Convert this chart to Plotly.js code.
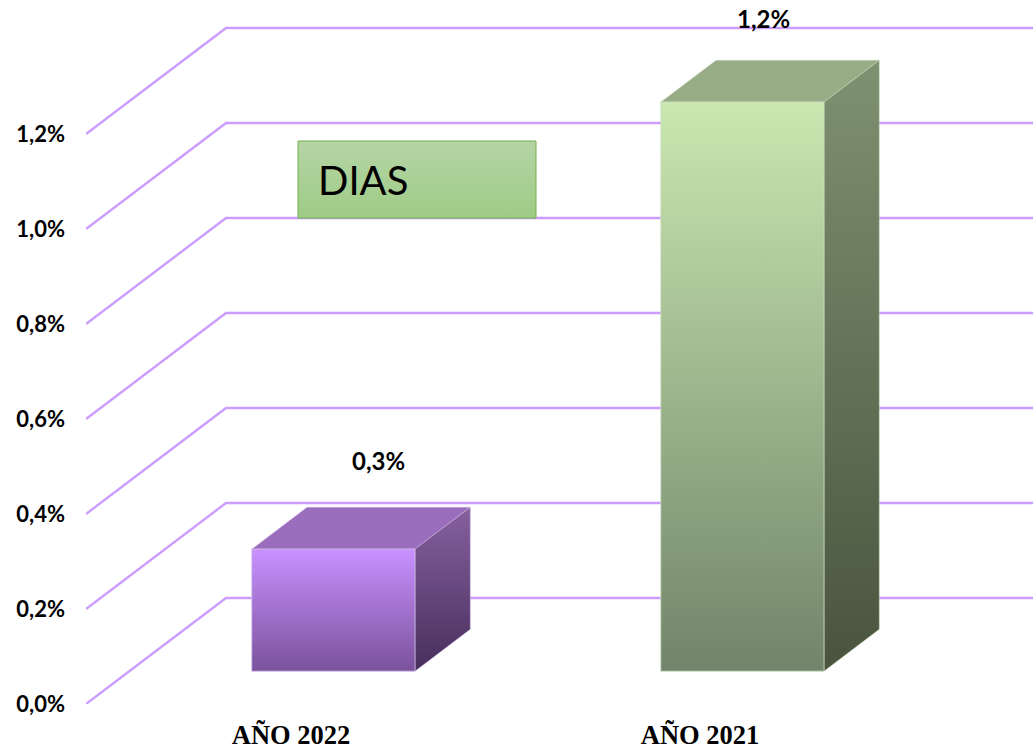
<!DOCTYPE html>
<html>
<head>
<meta charset="utf-8">
<script src="https://cdn.plot.ly/plotly-3.0.1.min.js"></script>
<style>html,body{margin:0;padding:0;background:#fff}#c{width:1033px;height:750px}</style>
</head>
<body>
<div id="c"></div>
<script>
// ---- data ----
const categories = ['AÑO 2022', 'AÑO 2021'];
const values = [0.257, 1.198];           // percent
const yTicks = [0, 0.2, 0.4, 0.6, 0.8, 1.0, 1.2];
const boxLabel = 'DIAS';
const pct = v => v.toFixed(1).replace('.', ',') + '%';

// ---- styles ----
const GRID = '#cc9cff';
const frontColors = [['#c991ff', '#7a529c'], ['#c9e8b0', '#72846a']];
const topColors = ['#9a6dbd', '#98ac85'];
const sideColors = [['#86609f', '#472f5c'], ['#7e9170', '#49543f']];
const edgeColors = ['#d3bce8', '#cfdcc4'];

// ---- oblique projection geometry (pixel scales of the plot area) ----
const W = 1033, H = 750, ML = 86, MB = 46;
const pxPerCat = 409, pxPerVal = 475, cat0Px = 290;
const xRange = [(ML - cat0Px) / pxPerCat, (W - cat0Px) / pxPerCat];
const yRange = [0, (H - MB) / pxPerVal];
const depthX = 140 / pxPerCat, depthY = 106 / pxPerVal;
const halfBar = 81.6 / pxPerCat, dFront = 0.31, dBack = 0.705;
const P = (c, v, d) => [c + d * depthX, v + d * depthY];
const px2x = p => (p - cat0Px) / pxPerCat;
const px2y = p => (H - MB - p) / pxPerVal;

const traces = [];
function poly(points, fill, lineColor, lineWidth) {
  const t = {
    x: points.map(p => p[0]).concat(points[0][0]),
    y: points.map(p => p[1]).concat(points[0][1]),
    type: 'scatter', mode: 'lines', fill: 'toself',
    line: {color: lineColor, width: lineWidth}, hoverinfo: 'skip', showlegend: false
  };
  if (Array.isArray(fill)) {
    t.fillgradient = {type: 'vertical', colorscale: [[0, fill[1]], [1, fill[0]]]};
  } else t.fillcolor = fill;
  traces.push(t);
}

// grid: side wall diagonals + back wall horizontals
const gx = [], gy = [];
yTicks.forEach(v => {
  const a = P(xRange[0], v, 0), b = P(xRange[0], v, 1);
  gx.push(a[0], b[0], xRange[1], null);
  gy.push(a[1], b[1], b[1], null);
});
traces.push({x: gx, y: gy, type: 'scatter', mode: 'lines',
  line: {color: GRID, width: 2.4}, hoverinfo: 'skip', showlegend: false});

// text box
const bx0 = px2x(298), bx1 = px2x(536), by0 = px2y(218), by1 = px2y(141);
poly([[bx0, by0], [bx1, by0], [bx1, by1], [bx0, by1]], ['#b6d5a6', '#9ecb86'], '#72b04c', 1);

// bars
values.forEach((v, i) => {
  const l = i - halfBar, r = i + halfBar;
  poly([P(l, v, dFront), P(r, v, dFront), P(r, v, dBack), P(l, v, dBack)], topColors[i], edgeColors[i], 0.5);
  poly([P(r, 0, dFront), P(r, 0, dBack), P(r, v, dBack), P(r, v, dFront)], sideColors[i], edgeColors[i], 0.5);
  poly([P(l, 0, dFront), P(r, 0, dFront), P(r, v, dFront), P(l, v, dFront)], frontColors[i], edgeColors[i], 0.75);
});

const labelFont = {family: 'Lato, sans-serif', size: 24, color: '#000'};
const labelShift = [[-10, 47], [-34, 42]];   // px from bar back-top centre
const annotations = values.map((v, i) => {
  const c = P(i, v, dBack);
  return {
    x: c[0] + labelShift[i][0] / pxPerCat, y: c[1] + labelShift[i][1] / pxPerVal,
    xref: 'x', yref: 'y', showarrow: false,
    text: '<b>' + pct(v) + '</b>', font: labelFont,
    xanchor: 'center', yanchor: 'middle'
  };
});
annotations.push({
  x: px2x(316), y: px2y(180), xref: 'x', yref: 'y', showarrow: false,
  text: boxLabel, xanchor: 'left', yanchor: 'middle',
  font: {family: 'Lato, sans-serif', size: 40, color: '#000'}
});

const layout = {
  width: W, height: H,
  margin: {l: ML, r: 0, t: 0, b: MB, pad: 0},
  paper_bgcolor: '#fff', plot_bgcolor: '#fff',
  showlegend: false,
  xaxis: {
    range: xRange, tickmode: 'array', tickvals: categories.map((c, i) => i), ticktext: categories,
    showgrid: false, zeroline: false, showline: false, ticks: '', ticklabelstandoff: 12, ticklabelshift: 1,
    tickfont: {family: '"Liberation Serif", serif', size: 26.5, color: '#000', weight: 700},
    automargin: false, fixedrange: true
  },
  yaxis: {
    range: yRange, tickmode: 'array', tickvals: yTicks, ticktext: yTicks.map(pct),
    showgrid: false, zeroline: false, showline: false, ticks: '', ticklabelstandoff: 20, ticklabelshift: 1.5,
    tickfont: {family: 'Lato, sans-serif', size: 22, color: '#000', weight: 700},
    automargin: false, fixedrange: true
  },
  annotations: annotations
};
Plotly.newPlot('c', traces, layout, {displayModeBar: false, staticPlot: true});
</script>
</body>
</html>
